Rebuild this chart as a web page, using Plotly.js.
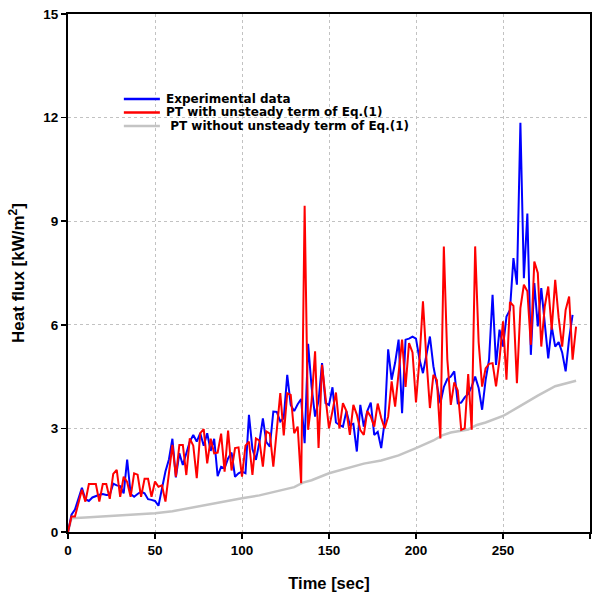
<!DOCTYPE html>
<html>
<head>
<meta charset="utf-8">
<script src="https://cdn.plot.ly/plotly-3.0.1.min.js"></script>
<style>html,body{margin:0;padding:0;background:#fff;}#chart{width:600px;height:597px;}</style>
</head>
<body>
<div id="chart"></div>
<script>
// Time samples (sec) for experimental data and PT with unsteady term
var time = [];
for (var k = 0; k <= 292; k += 2) time.push(k);

var experimental = [
 0, 0.5, 0.65, 1.0, 1.28, 0.95, 0.9, 1.0, 1.05, 1.08,
 1.1, 1.07, 1.08, 1.4, 1.35, 1.33, 1.12, 2.1, 1.1, 1.02,
 1.1, 1.17, 1.12, 0.95, 0.93, 0.9, 0.76, 1.3, 1.75, 2.1,
 2.7, 1.58, 2.28, 1.94, 2.3, 2.62, 2.81, 2.62, 2.86, 2.5,
 2.86, 2.35, 2.7, 1.62, 1.89, 1.85, 2.13, 2.3, 1.6, 1.7,
 1.75, 1.7, 3.39, 2.4, 2.09, 2.6, 3.29, 2.6, 2.47, 3.49,
 3.48, 3.2, 3.3, 4.55, 3.68, 3.5, 3.7, 3.85, 2.57, 5.45,
 4.2, 3.34, 3.8, 4.89, 3.73, 3.68, 4.19, 3.17, 3.1, 3.05,
 3.5, 3.1, 3.13, 2.33, 3.68, 3.05, 3.5, 3.75, 2.81, 2.9,
 2.43, 3.2, 5.29, 4.41, 4.9, 5.57, 3.44, 5.57, 5.6, 5.66,
 5.6, 5.0, 4.6, 5.1, 5.66, 4.8, 4.2, 3.73, 4.2, 4.43,
 4.5, 4.65, 3.73, 3.75, 3.9, 4.0, 4.21, 4.5, 4.17, 3.54,
 4.4, 5.0, 6.87, 4.84, 5.86, 5.37, 6.24, 6.43, 7.93, 7.16,
 11.85, 7.35, 9.22, 5.13, 7.21, 5.95, 7.06, 6.0, 5.03, 5.95,
 5.37, 5.5, 5.2, 4.65, 5.6, 6.29
];

var ptUnsteady = [
 0, 0.45, 0.45, 0.85, 1.22, 0.88, 1.39, 1.39, 1.39, 0.88,
 1.39, 1.39, 0.96, 1.68, 1.8, 1.02, 1.6, 1.45, 1.02, 1.7,
 1.66, 1.02, 1.54, 1.54, 1.02, 1.46, 1.31, 1.35, 0.88, 1.7,
 2.52, 1.6, 2.52, 2.52, 1.65, 2.71, 2.5, 1.56, 2.86, 2.98,
 1.99, 2.7, 2.28, 2.3, 2.85, 1.75, 2.94, 1.78, 2.43, 2.45,
 1.6, 2.5, 2.62, 1.65, 2.71, 2.65, 1.89, 2.91, 2.85, 1.89,
 3.0, 4.02, 2.8, 4.02, 3.97, 2.86, 3.05, 1.41, 9.45, 2.96,
 3.8, 5.23, 2.43, 4.84, 3.9, 3.0, 3.5, 4.04, 3.0, 3.73,
 3.5, 2.81, 3.68, 3.4, 2.95, 2.81, 3.5, 3.34, 3.05, 3.72,
 3.3, 3.0, 3.34, 4.36, 3.63, 4.6, 5.57, 4.2, 5.47, 5.2,
 3.75, 5.0, 6.68, 5.0, 3.59, 4.55, 4.4, 2.71, 8.27, 5.0,
 3.68, 4.33, 4.1, 2.96, 3.0, 4.57, 2.96, 8.27, 5.5, 4.21,
 4.74, 4.87, 4.89, 4.22, 5.0, 6.1, 4.41, 6.66, 6.55, 4.31,
 6.48, 7.16, 6.97, 5.42, 7.83, 7.5, 5.37, 6.53, 7.11, 5.86,
 7.3, 6.2, 5.37, 6.43, 6.82, 4.99, 5.95
];

// PT without unsteady term
var grayTime = [0, 2, 10, 20, 30, 40, 50, 60, 70, 80, 90, 100, 110, 120, 130, 135, 140, 150, 160, 170, 180, 190, 200, 210, 215, 220, 230, 235, 240, 250, 260, 270, 280, 286, 292];
var ptSteady = [0, 0.4, 0.42, 0.45, 0.48, 0.51, 0.54, 0.6, 0.7, 0.8, 0.9, 0.98, 1.06, 1.17, 1.3, 1.43, 1.5, 1.7, 1.85, 1.98, 2.07, 2.22, 2.43, 2.65, 2.8, 2.88, 2.97, 3.1, 3.17, 3.36, 3.65, 3.95, 4.22, 4.3, 4.38];

var legendNames = ["Experimental data", "PT with unsteady term of Eq.(1)", " PT without unsteady term of Eq.(1)"];
var xTicks = [0, 50, 100, 150, 200, 250, 300];
var yTicks = [0, 3, 6, 9, 12, 15];

var FONT = "Liberation Sans, Arial, sans-serif";
var LEGFONT = "DejaVu Sans, Liberation Sans, sans-serif";

var traces = [
  {x: grayTime, y: ptSteady, mode: "lines", name: legendNames[2], line: {color: "#c4c4c4", width: 2.5}, showlegend: false},
  {x: time, y: experimental, mode: "lines", name: legendNames[0], line: {color: "#0000ff", width: 2}, showlegend: false},
  {x: time, y: ptUnsteady, mode: "lines", name: legendNames[1], line: {color: "#ff0000", width: 2}, showlegend: false}
];

// legend drawn as sample lines + text (compact spacing like the reference)
var legColors = ["#0000ff", "#ff0000", "#c4c4c4"];
var legY = [0.836, 0.810, 0.784];
var shapes = [], annotations = [];
for (var i = 0; i < 3; i++) {
  shapes.push({type: "line", xref: "paper", yref: "paper", x0: 0.107, x1: 0.176, y0: legY[i], y1: legY[i], line: {color: legColors[i], width: 2.5}});
  annotations.push({xref: "paper", yref: "paper", x: 0.184, y: legY[i], xanchor: "left", yanchor: "middle", showarrow: false, text: "<b>" + legendNames[i] + "</b>", font: {family: LEGFONT, size: 12, color: "#000"}});
}

var layout = {
  width: 600, height: 597,
  margin: {l: 68, r: 10, t: 14, b: 65},
  paper_bgcolor: "#fff", plot_bgcolor: "#fff",
  showlegend: false,
  font: {family: FONT, color: "#000"},
  xaxis: {
    range: [0, 300], tickvals: xTicks, ticktext: xTicks.map(function(v){return "<b>" + v + "</b>";}),
    showline: true, linecolor: "#000", linewidth: 2, mirror: true,
    ticks: "outside", ticklen: 5, tickwidth: 1.5, tickcolor: "#000",
    showgrid: true, gridcolor: "#c2c2c2", griddash: "dot", gridwidth: 1,
    zeroline: false, tickfont: {family: FONT, size: 13.5},
    title: {text: "<b>Time [sec]</b>", font: {family: FONT, size: 16.5}, standoff: 20}
  },
  yaxis: {
    range: [0, 15], tickvals: yTicks, ticktext: yTicks.map(function(v){return "<b>" + v + "</b>";}),
    showline: true, linecolor: "#000", linewidth: 2, mirror: true,
    ticks: "outside", ticklen: 5, tickwidth: 1.5, tickcolor: "#000",
    showgrid: true, gridcolor: "#c2c2c2", griddash: "dot", gridwidth: 1,
    zeroline: false, tickfont: {family: FONT, size: 13.5},
    title: {text: "<b>Heat flux [kW/m<sup>2</sup>]</b>", font: {family: FONT, size: 17}, standoff: 14}
  },
  shapes: shapes,
  annotations: annotations
};

Plotly.newPlot("chart", traces, layout, {displayModeBar: false, staticPlot: true});
</script>
</body>
</html>
